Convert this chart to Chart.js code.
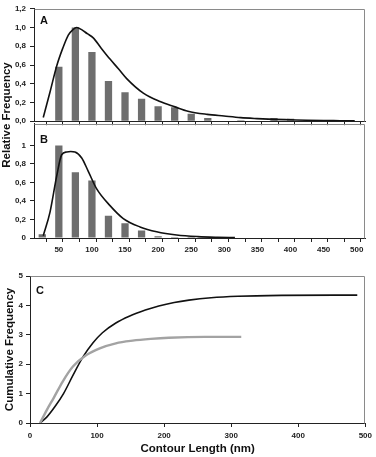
<!DOCTYPE html>
<html><head><meta charset="utf-8">
<script src="https://cdn.jsdelivr.net/npm/chart.js@4/dist/chart.umd.min.js"></script>
<style>
html,body{margin:0;padding:0;background:#fff;}
body{width:376px;height:457px;position:relative;overflow:hidden;font-family:"Liberation Sans",Arial,sans-serif;}
canvas{position:absolute;left:0;}
.lbl{position:absolute;font-weight:bold;font-size:11px;line-height:1;color:#111;}
.ytitle{position:absolute;font-weight:bold;font-size:11.5px;line-height:1;color:#111;white-space:nowrap;transform:translate(-50%,-50%) rotate(-90deg);}
</style></head>
<body>
<canvas id="cA" width="376" height="130" style="top:0px"></canvas>
<canvas id="cB" width="376" height="142" style="top:115px"></canvas>
<canvas id="cC" width="376" height="195" style="top:262px"></canvas>
<div class="lbl" style="left:40px;top:15px">A</div>
<div class="lbl" style="left:40px;top:134px">B</div>
<div class="lbl" style="left:36px;top:285px">C</div>
<div class="ytitle" style="left:7px;top:115px">Relative Frequency</div>
<script>
// ---- data ----
const categories = [25,50,75,100,125,150,175,200,225,250,275,300,325,350,375,400,425,450,475,500];
const freqA = [0,0.58,1.0,0.74,0.43,0.31,0.24,0.16,0.15,0.08,0.035,0,0.01,0,0.035,0.025,0.01,0,0,0];
const freqB = [0.04,1.0,0.71,0.62,0.24,0.16,0.08,0.02,0.01,0.01,0.005,0.005,0,0,0,0,0,0,0,0];
const fitAx = [26.5,37,46.8,56,64.3,71,77,85,93,102,114,127.3,140,152.5,177.6,202.8,225.5,245,274,299.5,324.6,349.4,375,400,425,450,475,497];
const fitAy = [0.04,0.32,0.59,0.78,0.92,0.976,1.0,0.975,0.934,0.89,0.78,0.663,0.56,0.455,0.30,0.21,0.153,0.107,0.073,0.055,0.038,0.028,0.02,0.015,0.01,0.007,0.005,0.003];
const fitBx = [26.5,36.7,46.8,54.3,61.9,68,74.4,84.6,94.5,107.2,127.3,147.4,172.6,197.8,228,260,290,316];
const fitBy = [0.025,0.28,0.67,0.90,0.93,0.935,0.93,0.865,0.72,0.53,0.35,0.21,0.12,0.067,0.032,0.015,0.008,0.005];
const cumBlackX = [15,25,37,50,64,79,94,108,128,148,172,192,215,237,270,310,375,488];
const cumBlackY = [0,0.2,0.55,1.0,1.62,2.25,2.73,3.07,3.4,3.63,3.84,3.98,4.1,4.18,4.26,4.31,4.34,4.35];
const cumGrayX = [15,25,35,49,64,84,104,128,153,180,207,261,315];
const cumGrayY = [0,0.44,0.84,1.42,1.92,2.31,2.54,2.71,2.8,2.86,2.9,2.93,2.93];
const histTicks = [50,100,150,200,250,300,350,400,450,500];
const yTicksA = [0,0.2,0.4,0.6,0.8,1.0,1.2];
const yTicksB = [0,0.2,0.4,0.6,0.8,1];

// ---- helpers ----
const FONT = {family:'"Liberation Sans", Arial, sans-serif', size:8, weight:'bold'};
const TITLEFONT = {family:'"Liberation Sans", Arial, sans-serif', size:11.5, weight:'bold'};
const pts = (xs, ys) => xs.map((x,i)=>({x, y: ys[i]}));
const comma = v => v.toFixed(1).replace('.', ',');

const boxPlugin = {
  id:'box',
  beforeDatasetsDraw(chart){
    const {ctx, chartArea:a} = chart;
    const l = Math.round(a.left)+0.5, r = Math.round(a.right)-0.5, t = Math.round(a.top)+0.5, b = Math.round(a.bottom)+0.5;
    ctx.save();
    ctx.strokeStyle = '#8a8a8a'; ctx.lineWidth = 1;
    ctx.beginPath(); ctx.moveTo(l, t); ctx.lineTo(r, t); ctx.lineTo(r, b); ctx.stroke();
    ctx.restore();
  }
};

function histX(showLabels, height){
  const tickVals = [];
  for (let v = 12.5; v <= 512.5; v += 12.5) tickVals.push(v);
  return {
    type:'linear', min:12.5, max:512.5, offset:false,
    afterBuildTicks(s){ s.ticks = tickVals.map(v=>({value:v})); },
    afterFit(s){ s.height = height; },
    grid:{drawOnChartArea:false, drawTicks:true, tickLength:4,
      tickColor: c => (c.tick && Math.abs(((c.tick.value-12.5)/25) - Math.round((c.tick.value-12.5)/25)) < 1e-6) ? '#222' : 'rgba(0,0,0,0)'},
    border:{display:true, color:'#222', width:1},
    ticks:{autoSkip:false, maxRotation:0, minRotation:0, padding:3, color:'#222', font:FONT,
      callback: v => (showLabels && histTicks.includes(Math.round(v*10)/10)) ? String(v) : ''}
  };
}

function histChart(id, freq, fx, fy, yOpts, xHeight){
  return new Chart(document.getElementById(id), {
    type:'bar',
    data:{datasets:[
      {type:'line', data: pts(fx, fy), borderColor:'#111', borderWidth:1.6, pointRadius:0, fill:false, cubicInterpolationMode:'monotone', order:0},
      {type:'bar', data: pts(categories, freq), backgroundColor:'#6e6e6e', borderWidth:0, barPercentage:0.88, categoryPercentage:1, order:1}
    ]},
    options:{
      responsive:false, animation:false, devicePixelRatio:1,
      layout:{padding:{top:7, right:11, left:0, bottom:0}},
      plugins:{legend:{display:false}, tooltip:{enabled:false}},
      scales:{ x: histX(xHeight > 10, xHeight), y: yOpts }
    },
    plugins:[boxPlugin]
  });
}

histChart('cA', freqA, fitAx, fitAy, {
  type:'linear', min:0, max:1.2,
  afterBuildTicks(s){ s.ticks = yTicksA.map(v=>({value:v})); },
  afterFit(s){ s.width = 34; },
  grid:{drawOnChartArea:false, tickLength:4, tickColor:'#222'},
  border:{display:true, color:'#222', width:1},
  ticks:{padding:4, color:'#222', font:FONT, callback: v => comma(v)}
}, 8);

histChart('cB', freqB, fitBx, fitBy, {
  type:'linear', min:0, max:1.234,
  afterBuildTicks(s){ s.ticks = yTicksB.map(v=>({value:v})); },
  afterFit(s){ s.width = 34; },
  grid:{drawOnChartArea:false, tickLength:4, tickColor:'#222'},
  border:{display:true, color:'#222', width:1},
  ticks:{padding:4, color:'#222', font:FONT, callback: v => (v===0 ? '0' : (Math.abs(v-1)<1e-9 ? '1' : comma(v)))}
}, 19);

new Chart(document.getElementById('cC'), {
  type:'line',
  data:{datasets:[
    {data: pts(cumGrayX, cumGrayY), borderColor:'#a3a3a3', borderWidth:2.4, pointRadius:0, fill:false, cubicInterpolationMode:'monotone'},
    {data: pts(cumBlackX, cumBlackY), borderColor:'#111', borderWidth:1.6, pointRadius:0, fill:false, cubicInterpolationMode:'monotone'}
  ]},
  options:{
    responsive:false, animation:false, devicePixelRatio:1,
    layout:{padding:{top:14, right:8, left:0, bottom:0}},
    plugins:{legend:{display:false}, tooltip:{enabled:false}},
    scales:{
      x:{type:'linear', min:0, max:500,
        ticks:{stepSize:100, padding:4, color:'#222', font:FONT, maxRotation:0},
        afterFit(s){ s.height = 34; },
        grid:{drawOnChartArea:false, tickLength:4, tickColor:'#222'},
        border:{display:true, color:'#222', width:1},
        title:{display:true, text:'Contour Length (nm)', color:'#111', font:TITLEFONT, padding:{top:0,bottom:1}}
      },
      y:{type:'linear', min:0, max:5,
        ticks:{stepSize:1, padding:3, color:'#222', font:FONT},
        afterFit(s){ s.width = 30; },
        grid:{drawOnChartArea:false, tickLength:4, tickColor:'#222'},
        border:{display:true, color:'#222', width:1},
        title:{display:true, text:'Cumulative Frequency', color:'#111', font:TITLEFONT, padding:{top:3,bottom:0}}
      }
    }
  },
  plugins:[boxPlugin]
});
</script>
</body></html>
